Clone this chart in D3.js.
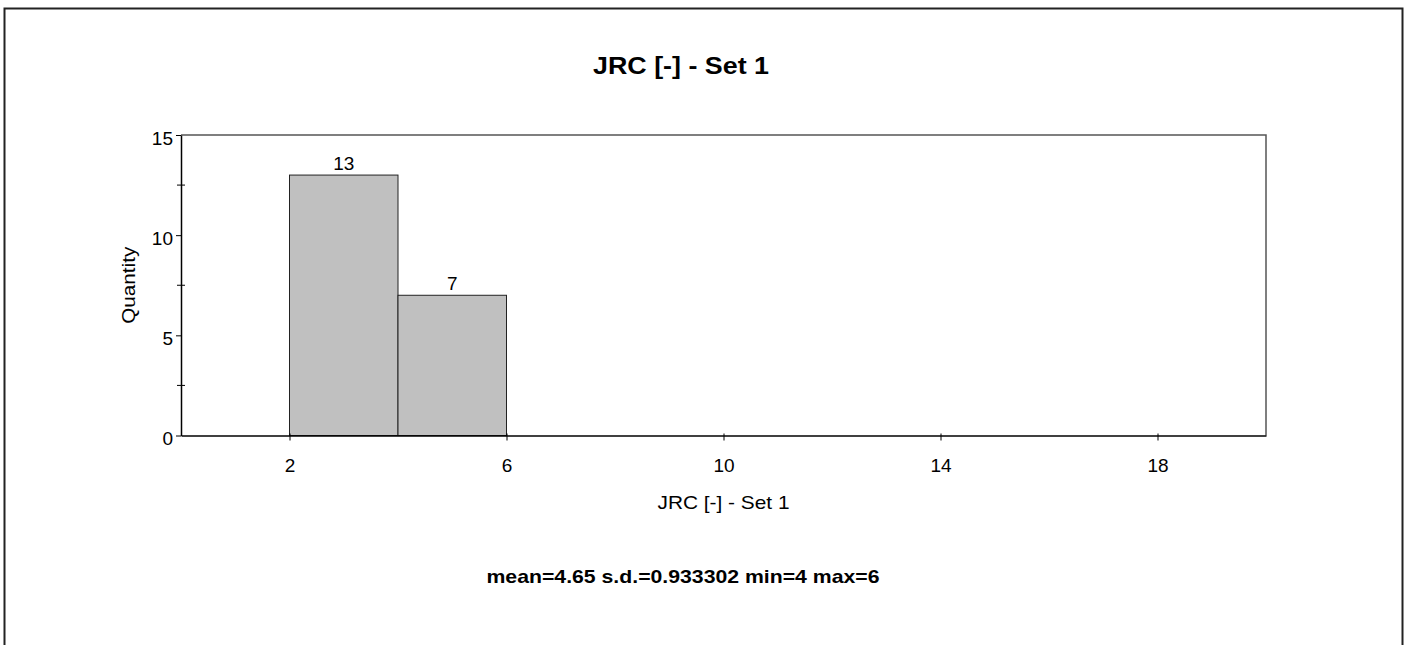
<!DOCTYPE html>
<html>
<head>
<meta charset="utf-8">
<script src="https://cdn.jsdelivr.net/npm/d3@7"></script>
<style>
  html, body { margin: 0; padding: 0; background: #fff; }
  svg { display: block; font-family: Arial, "Liberation Sans", sans-serif; }
</style>
</head>
<body>
<svg id="chart" width="1411" height="645"></svg>
<script>
// Histogram of JRC values for Set 1
const binEdges = [2, 4, 6];          // bin boundaries
const counts = [13, 7];              // quantity in each bin
const xTicks = [2, 6, 10, 14, 18];
const yMajorTicks = [0, 5, 10, 15];
const yMinorTicks = [2.5, 7.5, 12.5];
const titleText = "JRC [-] - Set 1";
const xLabelText = "JRC [-] - Set 1";
const yLabelText = "Quantity";
const statsText = "mean=4.65 s.d.=0.933302 min=4 max=6";

const bins = counts.map((c, i) => ({ x0: binEdges[i], x1: binEdges[i + 1], count: c }));

const svg = d3.select("#chart");
const plot = { left: 181, top: 135, right: 1266, bottom: 435.5 };

const x = d3.scaleLinear().domain([0, 20]).range([plot.left, plot.right]);
const y = d3.scaleLinear().domain([0, 15]).range([plot.bottom, plot.top]);

// outer frame (open at the bottom edge)
svg.append("rect")
  .attr("x", 4.5).attr("y", 8.5)
  .attr("width", 1398).attr("height", 700)
  .attr("fill", "none").attr("stroke", "#222").attr("stroke-width", 2);

// title
svg.append("text")
  .attr("x", 681).attr("y", 74)
  .attr("text-anchor", "middle")
  .attr("font-size", 24).attr("font-weight", "bold")
  .attr("textLength", 176).attr("lengthAdjust", "spacingAndGlyphs")
  .text(titleText);

// top and right edges of the plot frame
svg.append("path")
  .attr("d", `M${plot.left},${plot.top}H${plot.right}V${plot.bottom}`)
  .attr("fill", "none").attr("stroke", "#555").attr("stroke-width", 1.5);

// bars
svg.append("g").selectAll("rect").data(bins).join("rect")
  .attr("x", d => x(d.x0))
  .attr("y", d => y(d.count))
  .attr("width", d => x(d.x1) - x(d.x0))
  .attr("height", d => y(0) - y(d.count))
  .attr("fill", "#c0c0c0")
  .attr("stroke", "#222").attr("stroke-width", 1);

// value labels over bars
svg.append("g").selectAll("text").data(bins).join("text")
  .attr("x", d => (x(d.x0) + x(d.x1)) / 2)
  .attr("y", d => y(d.count) - 5)
  .attr("text-anchor", "middle")
  .attr("font-size", 19)
  .text(d => d.count);

// y axis
const yAxis = svg.append("g")
  .attr("transform", `translate(${plot.left},0)`)
  .call(d3.axisLeft(y).tickValues(yMajorTicks).tickSizeInner(5).tickSizeOuter(0)
    .tickPadding(3).tickFormat(d3.format("d")));
yAxis.select(".domain").attr("stroke", "#000").attr("stroke-width", 1.5);
yAxis.selectAll(".tick line").attr("stroke", "#000");
yAxis.selectAll(".tick text")
  .attr("font-size", 19).attr("fill", "#000")
  .attr("font-family", "Arial, 'Liberation Sans', sans-serif")
  .attr("dy", "0.65em").attr("y", -3);

// minor y ticks crossing the axis
svg.append("g").selectAll("line").data(yMinorTicks).join("line")
  .attr("x1", plot.left - 4).attr("x2", plot.left + 4)
  .attr("y1", d => y(d)).attr("y2", d => y(d))
  .attr("stroke", "#000");

// x axis
const xAxis = svg.append("g")
  .attr("transform", `translate(0,${plot.bottom})`)
  .call(d3.axisBottom(x).tickValues(xTicks).tickSizeInner(5).tickSizeOuter(0)
    .tickPadding(18).tickFormat(d3.format("d")));
xAxis.select(".domain").attr("stroke", "#000").attr("stroke-width", 1.5);
xAxis.selectAll(".tick line").attr("y1", -2).attr("stroke", "#000");
xAxis.selectAll(".tick text")
  .attr("font-size", 19).attr("fill", "#000")
  .attr("font-family", "Arial, 'Liberation Sans', sans-serif");

// axis titles
svg.append("text")
  .attr("x", (plot.left + plot.right) / 2).attr("y", 509)
  .attr("text-anchor", "middle")
  .attr("font-size", 19)
  .attr("textLength", 132).attr("lengthAdjust", "spacingAndGlyphs")
  .text(xLabelText);

svg.append("text")
  .attr("transform", `translate(134.5,${(plot.top + plot.bottom) / 2}) rotate(-90)`)
  .attr("text-anchor", "middle")
  .attr("font-size", 19)
  .attr("textLength", 77).attr("lengthAdjust", "spacingAndGlyphs")
  .text(yLabelText);

// summary statistics
svg.append("text")
  .attr("x", 683).attr("y", 583)
  .attr("text-anchor", "middle")
  .attr("font-size", 19).attr("font-weight", "bold")
  .attr("textLength", 393).attr("lengthAdjust", "spacingAndGlyphs")
  .text(statsText);
</script>
</body>
</html>
